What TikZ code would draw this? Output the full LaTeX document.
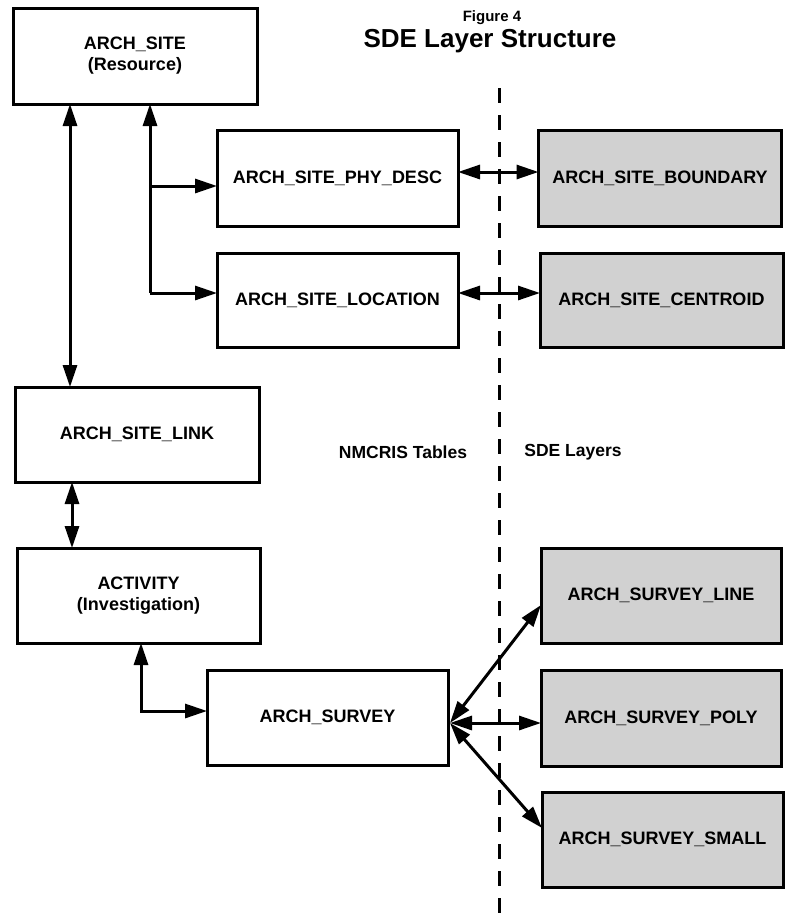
\documentclass[tikz,border=0pt]{standalone}
\usepackage{fontspec}
\setmainfont{Liberation Sans}
\usetikzlibrary{arrows.meta,calc}
\tikzset{
  box/.style={draw=black, line width=3pt, fill=white, inner sep=0pt, outer sep=0pt, align=center,
    font=\fontsize{18}{21}\selectfont\bfseries},
  shaded/.style={box, fill=black!18},
  conn/.style={line width=3pt, >={Triangle[length=22pt,width=14pt]}},
  divider/.style={line width=3pt, dash pattern=on 15pt off 12pt},
  plain/.style={font=\fontsize{17.5}{20}\selectfont\bfseries, inner sep=0pt}
}
\begin{document}
\begin{tikzpicture}[x=1pt,y=-1pt]
\useasboundingbox (0,0) rectangle (786,916);
% title
\node[font=\fontsize{15}{16}\selectfont\bfseries, inner sep=0pt] (fig) at (492,18) {Figure 4};
\node[font=\fontsize{26}{28}\selectfont\bfseries, inner sep=0pt] (title) at (490,41) {SDE Layer Structure};
% divider
\coordinate (dtop) at (499,88);
\coordinate (dbot) at (499,916);
\draw[divider] (dtop) -- (dbot);
% boxes
\node[box, minimum width=244pt, minimum height=96pt] (site) at (135,56) {ARCH\_SITE\\(Resource)};
\node[box, minimum width=241pt, minimum height=96pt] (phy) at (337.5,178) {ARCH\_SITE\_PHY\_DESC};
\node[box, minimum width=241pt, minimum height=94pt] (loc) at (337.5,300) {ARCH\_SITE\_LOCATION};
\node[shaded, minimum width=243pt, minimum height=96pt] (bound) at (660,178) {ARCH\_SITE\_BOUNDARY};
\node[shaded, minimum width=243pt, minimum height=94pt] (cent) at (661.5,300) {ARCH\_SITE\_CENTROID};
\node[box, minimum width=244pt, minimum height=95pt] (link) at (137,434.5) {ARCH\_SITE\_LINK};
\node[box, minimum width=243pt, minimum height=95pt] (act) at (138.5,595.5) {ACTIVITY\\(Investigation)};
\node[box, minimum width=241pt, minimum height=95pt] (survey) at (327.5,717.5) {ARCH\_SURVEY};
\node[shaded, minimum width=240pt, minimum height=95pt] (sline) at (661,595.5) {ARCH\_SURVEY\_LINE};
\node[shaded, minimum width=240pt, minimum height=96pt] (spoly) at (661,718) {ARCH\_SURVEY\_POLY};
\node[shaded, minimum width=241pt, minimum height=95pt] (ssmall) at (662.5,839.5) {ARCH\_SURVEY\_SMALL};
% labels
\node[plain] (nmcris) at (403,452) {NMCRIS Tables};
\node[plain] (sdel) at (573,452) {SDE Layers};
% connectors
\coordinate (c70) at (70,0);
\draw[conn,<->] (site.south -| c70) -- (link.north -| c70);
\coordinate (j1) at (150,293);
\coordinate (j2) at (150,186);
\draw[conn,->] (j1) -- (j1 |- site.south);
\draw[conn,->] (j1) -- (j1 -| loc.west);
\draw[conn,->] (j2) -- (j2 -| phy.west);
\draw[conn,<->] ([yshift=6pt]phy.east) -- ([yshift=6pt]phy.east -| bound.west);
\draw[conn,<->] ([yshift=7pt]loc.east) -- ([yshift=7pt]loc.east -| cent.west);
\coordinate (c72) at (72,0);
\draw[conn,<->] (link.south -| c72) -- (act.north -| c72);
\coordinate (c141) at (141,0);
\draw[conn,<->] (act.south -| c141) |- ([yshift=6.5pt]survey.west);
\coordinate (hub) at ($(survey.east)+(2,5.5)$);
\draw[conn,<->] (hub) -- ([yshift=-9.5pt]sline.west);
\draw[conn,<->] (hub) -- (hub -| spoly.west);
\draw[conn,<->] (hub) -- ([yshift=11.5pt]ssmall.west);
\end{tikzpicture}
\end{document}
